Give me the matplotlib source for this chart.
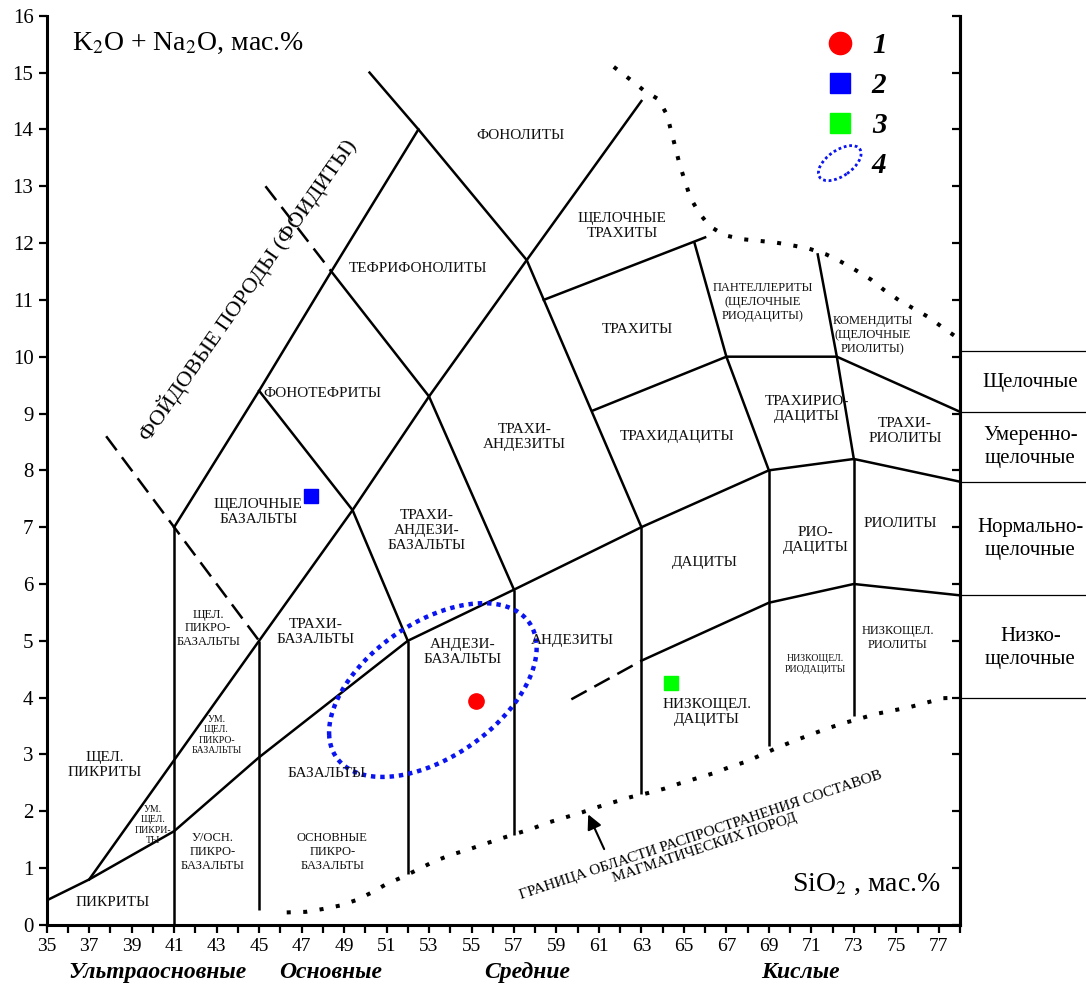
import numpy as np
import matplotlib
matplotlib.use('Agg')
import matplotlib.pyplot as plt
from matplotlib.patches import Ellipse
from matplotlib.lines import Line2D
from matplotlib.legend_handler import HandlerPatch
from matplotlib.ticker import MultipleLocator, FuncFormatter

plt.rcParams['font.family'] = ['Liberation Serif', 'DejaVu Serif']
plt.rcParams['mathtext.fontset'] = 'stix'

# classification boundaries, SiO2 (x) vs K2O+Na2O (y)
base_x = [35.1, 37, 41, 45, 52, 57, 63, 69, 73, 78]
base_y = [0.45, 0.8, 1.65, 2.95, 5.0, 5.9, 7.0, 8.0, 8.2, 7.8]
foid_x = [37, 45, 49.4, 53, 57.6, 63]
foid_y = [0.8, 5.0, 7.3, 9.3, 11.7, 14.5]
teph_x = [41, 45, 48.4, 52.5]
teph_y = [7.0, 9.4, 11.5, 14.0]
phon_x = [50.2, 52.5, 57.6, 63]
phon_y = [15.0, 14.0, 11.7, 7.0]
ptef_x = [45, 49.4, 52]
ptef_y = [9.4, 7.3, 5.0]
tand_x = [48.4, 53, 57]
tand_y = [11.5, 9.3, 5.9]
trach_top_x = [58.4, 66.0]
trach_top_y = [11.0, 12.1]
trach_bot_x = [60.7, 67, 72.2, 78]
trach_bot_y = [9.05, 10.0, 10.0, 9.03]
pant_x = [65.5, 67, 69]
pant_y = [12.0, 10.0, 8.0]
kom_x = [71.3, 72.2, 73]
kom_y = [11.8, 10.0, 8.2]
lowalk_x = [63, 69, 73, 78]
lowalk_y = [4.65, 5.67, 6.0, 5.8]

# vertical boundaries: SiO2, top, bottom
vert_x = [41, 45, 52, 57, 63, 69, 73]
vert_top = [7.0, 5.0, 5.0, 5.9, 7.0, 8.0, 8.2]
vert_bot = [0.0, 0.27, 0.9, 1.58, 2.3, 3.15, 3.67]

# dashed boundaries
dash1_x = [37.8, 45]
dash1_y = [8.6, 5.0]
dash2_x = [45.3, 48.4]
dash2_y = [13.0, 11.5]
dash3_x = [59.7, 63]
dash3_y = [3.97, 4.65]

# dotted limits of magmatic rock compositions
top_lim_x = [61.7, 62.5, 63.1, 63.8, 64.2, 64.4, 64.6, 64.8, 65.05, 65.3, 65.7, 66.2,
             66.9, 67.7, 68.5, 69.3, 70.1, 70.9, 71.7, 72.4, 73.1, 73.8, 74.4, 75.1,
             75.8, 76.5, 77.2, 78.0]
top_lim_y = [15.1, 14.87, 14.69, 14.53, 14.26, 13.97, 13.68, 13.38, 13.09, 12.8, 12.54, 12.3,
             12.14, 12.07, 12.04, 12.01, 11.96, 11.9, 11.8, 11.67, 11.52, 11.36, 11.18, 11.0,
             10.85, 10.7, 10.51, 10.3]
bot_lim_x = [46.3, 47.2, 48.0, 48.8, 49.6, 50.3, 51.0, 51.8, 52.5, 53.2, 54.0, 54.8, 55.5,
             56.3, 57.9, 58.6, 59.4, 60.2, 60.9, 61.7, 62.5, 63.3, 64.1, 64.8, 65.6, 66.4,
             67.1, 67.9, 68.7, 69.4, 70.2, 70.9, 71.7, 72.5, 73.2, 74.0, 74.8, 75.6, 76.4,
             77.2, 78.0]
bot_lim_y = [0.22, 0.23, 0.28, 0.34, 0.44, 0.57, 0.72, 0.85, 0.98, 1.11, 1.23, 1.32, 1.41,
             1.51, 1.70, 1.80, 1.89, 1.98, 2.07, 2.16, 2.25, 2.32, 2.40, 2.49, 2.58, 2.67,
             2.77, 2.87, 3.0, 3.12, 3.24, 3.34, 3.45, 3.55, 3.62, 3.71, 3.77, 3.83, 3.91,
             3.99, 4.0]

# outline of field 4 (traced)
field_x = [48.18, 50.55, 55.26, 56.83, 57.62, 57.15, 56.2, 54.5, 52.1, 50.55, 48.98, 48.25]
field_y = [3.31, 2.73, 3.2, 3.72, 4.54, 5.37, 5.75, 5.69, 5.13, 4.78, 4.19, 3.73]

# samples
s1_x, s1_y = [55.2], [3.94]
s2_x, s2_y = [47.45], [7.55]
s3_x, s3_y = [64.4], [4.26]

# rock names: text, x, y, size
rock_labels = [
    ('ФОНОЛИТЫ', 57.3, 13.9, 11),
    ('ЩЕЛОЧНЫЕ\nТРАХИТЫ', 62.1, 12.3, 11),
    ('ТЕФРИФОНОЛИТЫ', 52.5, 11.56, 11),
    ('ТРАХИТЫ', 62.8, 10.47, 11),
    ('ПАНТЕЛЛЕРИТЫ\n(ЩЕЛОЧНЫЕ\nРИОДАЦИТЫ)', 68.7, 10.96, 9),
    ('КОМЕНДИТЫ\n(ЩЕЛОЧНЫЕ\nРИОЛИТЫ)', 73.9, 10.38, 9),
    ('ФОНОТЕФРИТЫ', 48.0, 9.36, 11),
    ('ТРАХИ-\nАНДЕЗИТЫ', 57.5, 8.59, 11),
    ('ТРАХИДАЦИТЫ', 64.7, 8.59, 11),
    ('ТРАХИРИО-\nДАЦИТЫ', 70.8, 9.08, 11),
    ('ТРАХИ-\nРИОЛИТЫ', 75.4, 8.7, 11),
    ('ЩЕЛОЧНЫЕ\nБАЗАЛЬТЫ', 44.97, 7.27, 11),
    ('ТРАХИ-\nАНДЕЗИ-\nБАЗАЛЬТЫ', 52.9, 6.95, 11),
    ('ДАЦИТЫ', 66.0, 6.37, 11),
    ('РИО-\nДАЦИТЫ', 71.2, 6.77, 11),
    ('РИОЛИТЫ', 75.2, 7.07, 11),
    ('ЩЕЛ.\nПИКРО-\nБАЗАЛЬТЫ', 42.6, 5.22, 9),
    ('ТРАХИ-\nБАЗАЛЬТЫ', 47.65, 5.15, 11),
    ('АНДЕЗИ-\nБАЗАЛЬТЫ', 54.6, 4.8, 11),
    ('АНДЕЗИТЫ', 59.76, 5.01, 11),
    ('НИЗКОЩЕЛ.\nРИОЛИТЫ', 75.07, 5.05, 9),
    ('НИЗКОЩЕЛ.\nРИОДАЦИТЫ', 71.2, 4.59, 7),
    ('НИЗКОЩЕЛ.\nДАЦИТЫ', 66.1, 3.75, 11),
    ('ЩЕЛ.\nПИКРИТЫ', 37.75, 2.81, 11),
    ('УМ.\nЩЕЛ.\nПИКРО-\nБАЗАЛЬТЫ', 43.0, 3.34, 7),
    ('БАЗАЛЬТЫ', 48.2, 2.67, 11),
    ('УМ.\nЩЕЛ.\nПИКРИ-\nТЫ', 40.0, 1.76, 7),
    ('У/ОСН.\nПИКРО-\nБАЗАЛЬТЫ', 42.8, 1.28, 9),
    ('ОСНОВНЫЕ\nПИКРО-\nБАЗАЛЬТЫ', 48.45, 1.28, 9),
    ('ПИКРИТЫ', 38.1, 0.4, 11),
]

# alkalinity series (right panel)
series_bounds = [10.1, 9.03, 7.8, 5.8, 4.0]
series_names = ['Щелочные', 'Умеренно-\nщелочные', 'Нормально-\nщелочные', 'Низко-\nщелочные']
series_y = [9.55, 8.41, 6.79, 4.87]

# silica groups
group_names = ['Ультраосновные', 'Основные', 'Средние', 'Кислые']
group_x = [40.2, 48.35, 57.6, 70.5]

fig = plt.figure(figsize=(10.86, 9.85), dpi=100)
ax = fig.add_axes([0.043, 0.061, 0.841, 0.923])
ax.set_xlim(35, 78)
ax.set_ylim(0, 16)

lw = 1.8
for xs, ys in [(base_x, base_y), (foid_x, foid_y), (teph_x, teph_y), (phon_x, phon_y),
               (ptef_x, ptef_y), (tand_x, tand_y), (trach_top_x, trach_top_y),
               (trach_bot_x, trach_bot_y), (pant_x, pant_y), (kom_x, kom_y),
               (lowalk_x, lowalk_y)]:
    ax.plot(xs, ys, color='black', lw=lw, solid_joinstyle='miter')
ax.vlines(vert_x, vert_bot, vert_top, color='black', lw=lw)

for xs, ys in [(dash1_x, dash1_y), (dash2_x, dash2_y), (dash3_x, dash3_y)]:
    ax.plot(xs, ys, color='black', lw=lw, ls=(0, (7, 3.5)))

for xs, ys in [(top_lim_x, top_lim_y), (bot_lim_x, bot_lim_y)]:
    ax.plot(xs, ys, color='black', lw=2.9, ls=(0, (1, 3.1)))

# ellipse fitted to the traced outline of field 4
fx = np.array(field_x)
fy = np.array(field_y)
xm, ym = fx.mean(), fy.mean()
u, v = fx - xm, fy - ym
A = np.column_stack([u * u, u * v, v * v, u, v])
p = np.linalg.lstsq(A, np.ones_like(u), rcond=None)[0]
M = np.array([[p[0], p[1] / 2], [p[1] / 2, p[2]]])
b = np.array([p[3], p[4]])
c = -0.5 * np.linalg.solve(M, b)
k = 1 + c @ M @ c
lam, V = np.linalg.eigh(M)
t = np.linspace(0, 2 * np.pi, 400)
pts = V @ np.vstack([np.sqrt(k / lam[0]) * np.cos(t), np.sqrt(k / lam[1]) * np.sin(t)])
ax.plot(pts[0] + c[0] + xm, pts[1] + c[1] + ym, color='#0a14f0', lw=3.2, ls=(0, (1, 1.1)))

# samples
ax.plot(s1_x, s1_y, 'o', ms=11, color='#ff0000')
ax.plot(s2_x, s2_y, 's', ms=10.5, color='#0000ff')
ax.plot(s3_x, s3_y, 's', ms=10.5, color='#00ff00')

for txt, x, y, fs in rock_labels:
    ax.text(x, y, txt, ha='center', va='center', fontsize=fs, color='#111111',
            multialignment='center', linespacing=1.2)

ax.text(44.48, 11.17, 'ФОЙДОВЫЕ ПОРОДЫ (ФОИДИТЫ)', rotation=55, rotation_mode='anchor',
        ha='center', va='center', fontsize=16)
ax.text(65.9, 1.46, 'ГРАНИЦА ОБЛАСТИ РАСПРОСТРАНЕНИЯ СОСТАВОВ\nМАГМАТИЧЕСКИХ ПОРОД',
        rotation=18.5, rotation_mode='anchor', ha='center', va='center', fontsize=11,
        multialignment='center', linespacing=1.0)
ax.annotate('', xy=(60.44, 1.99), xytext=(61.3, 1.29),
            arrowprops=dict(arrowstyle='-|>', color='black', lw=1.5, mutation_scale=22))

ax.text(36.2, 15.3, 'K$_2$O + Na$_2$O, мас.%', fontsize=20, ha='left', va='bottom')
ax.text(77.1, 0.5, 'SiO$_2$ , мас.%', fontsize=20, ha='right', va='bottom')

# right panel
ytr = ax.get_yaxis_transform()
for yb in series_bounds:
    ax.plot([1.0, 1.2], [yb, yb], color='black', lw=0.9, transform=ytr, clip_on=False)
for name, y in zip(series_names, series_y):
    ax.text(1.077, y, name, transform=ytr, ha='center', va='center', fontsize=15,
            multialignment='center', linespacing=1.25)

xtr = ax.get_xaxis_transform()
for name, x in zip(group_names, group_x):
    ax.text(x, -0.052, name, transform=xtr, ha='center', va='center', fontsize=17,
            fontweight='bold', fontstyle='italic')

# axes styling
ax.spines['top'].set_visible(False)
for s in ['left', 'right', 'bottom']:
    ax.spines[s].set_linewidth(2.2)
ax.xaxis.set_major_locator(MultipleLocator(1))
ax.xaxis.set_major_formatter(FuncFormatter(lambda val, pos: '%d' % val if int(round(val)) % 2 == 1 else ''))
ax.yaxis.set_major_locator(MultipleLocator(1))
ax.tick_params(axis='both', direction='out', length=6, width=1.6, labelsize=14)
ax.tick_params(axis='y', labelsize=15)
ax2 = ax.twinx()
ax2.set_ylim(0, 16)
ax2.yaxis.set_major_locator(MultipleLocator(1))
ax2.tick_params(axis='y', direction='in', length=6, width=1.6, labelright=False)
ax2.spines['top'].set_visible(False)
ax2.spines['right'].set_linewidth(2.2)

# legend
def ell_artist(legend, orig_handle, xdescent, ydescent, width, height, fontsize):
    return Ellipse((width / 2 - xdescent, height / 2 - ydescent), width * 1.05, height * 1.25, angle=35)

h1 = Line2D([], [], ls='none', marker='o', ms=16, color='#ff0000')
h2 = Line2D([], [], ls='none', marker='s', ms=15, color='#0000ff')
h3 = Line2D([], [], ls='none', marker='s', ms=15, color='#00ff00')
h4 = Ellipse((0, 0), 1, 1, fill=False, ec='#0a14f0', lw=2, ls=(0, (1, 1)))
ax2.legend([h1, h2, h3, h4], ['1', '2', '3', '4'],
           handler_map={Ellipse: HandlerPatch(patch_func=ell_artist)},
           loc='upper left', bbox_to_anchor=(0.83, 0.995), frameon=False,
           prop=dict(family='Liberation Serif', weight='bold', style='italic', size=21),
           handlelength=1.6, handletextpad=0.3, labelspacing=0.45, borderaxespad=0)

fig.savefig('out.png', dpi=100)
